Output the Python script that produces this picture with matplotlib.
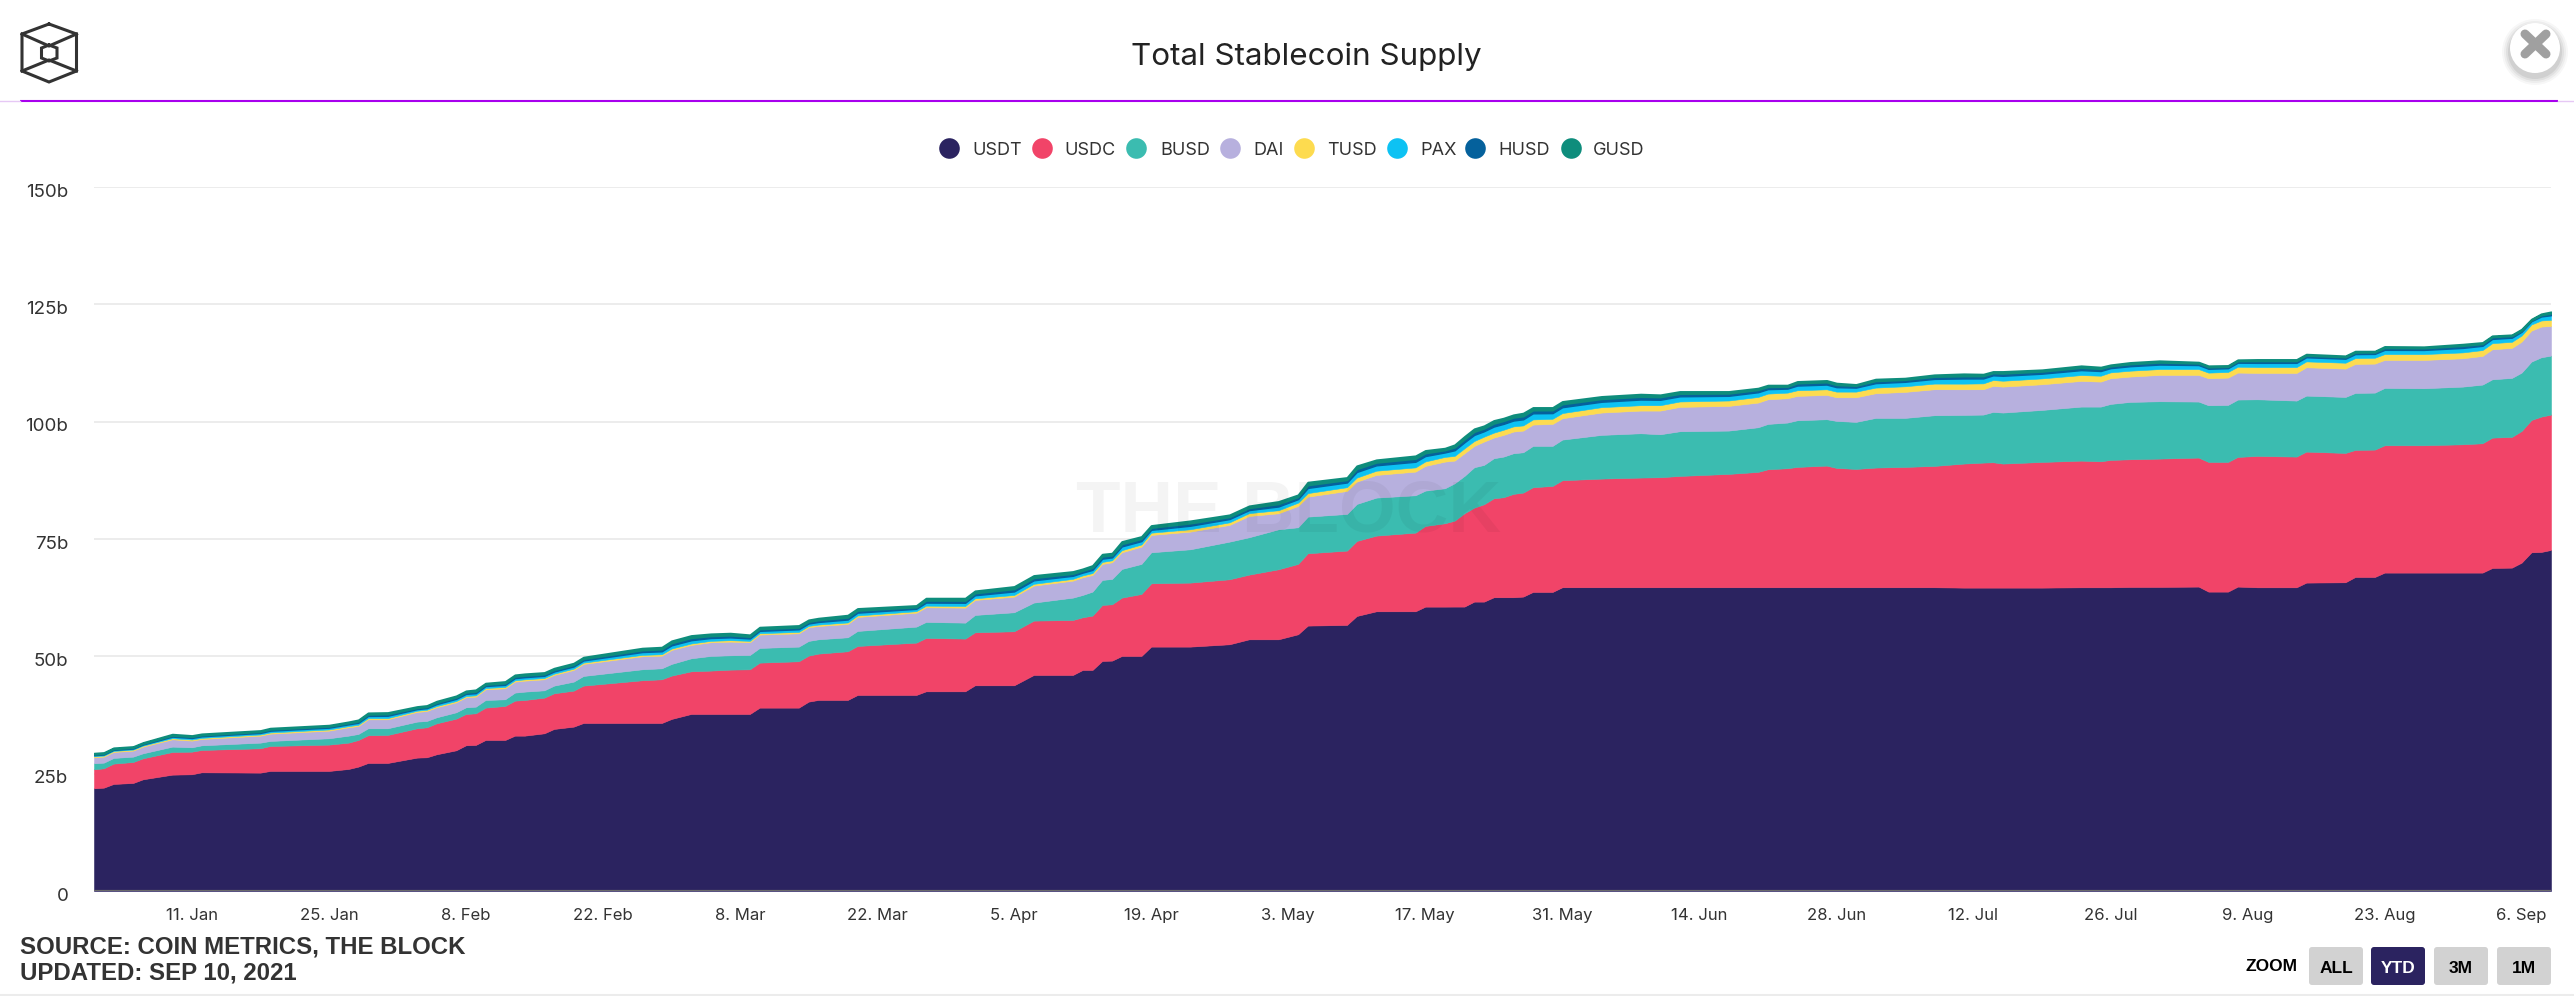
"""
Total Stablecoin Supply chart, values read off the picture (billions of USD)
"""
import numpy as np
import pandas as pd
import matplotlib
matplotlib.use("Agg")
import matplotlib.pyplot as plt
from matplotlib.patches import Circle, FancyBboxPatch
from matplotlib.transforms import ScaledTranslation

START = "2021-01-01"
days = [
    0, 1, 2, 4, 5, 8, 10, 11, 17, 18,
    24, 26, 27, 28, 30, 33, 34, 35, 37, 38,
    39, 40, 42, 43, 44, 46, 47, 49, 50, 56,
    58, 59, 61, 63, 65, 67, 68, 72, 73, 74,
    77, 78, 84, 85, 89, 90, 94, 96, 100, 101,
    102, 103, 104, 105, 107, 108, 112, 116, 118, 121,
    123, 124, 128, 129, 131, 135, 136, 138, 139, 140,
    141, 142, 143, 144, 145, 146, 147, 149, 150, 154,
    158, 160, 162, 167, 170, 171, 173, 174, 177, 178,
    180, 182, 185, 188, 191, 193, 194, 195, 199, 203,
    205, 206, 208, 211, 215, 216, 218, 219, 221, 225,
    226, 230, 231, 233, 234, 238, 242, 244, 245, 247,
    248, 249, 250, 251,
]
usdt = [
    21.88, 22.02, 22.81, 23.02, 23.80, 24.79, 24.87, 25.29, 25.22, 25.58,
    25.58, 26.00, 26.50, 27.28, 27.28, 28.42, 28.49, 29.13, 29.98, 31.05,
    31.12, 32.18, 32.18, 33.10, 33.10, 33.60, 34.53, 35.02, 35.80, 35.80,
    35.80, 36.66, 37.72, 37.72, 37.72, 37.72, 39.07, 39.07, 40.35, 40.71,
    40.71, 41.77, 41.77, 42.55, 42.55, 43.83, 43.83, 46.03, 46.03, 47.10,
    47.10, 49.02, 49.09, 50.08, 50.08, 52.07, 52.07, 52.57, 53.63, 53.63,
    54.70, 56.55, 56.69, 58.60, 59.60, 59.60, 60.59, 60.59, 60.60, 60.60,
    61.66, 61.66, 62.59, 62.59, 62.59, 62.73, 63.72, 63.72, 64.72, 64.72,
    64.72, 64.72, 64.72, 64.72, 64.72, 64.72, 64.72, 64.72, 64.72, 64.72,
    64.72, 64.72, 64.72, 64.72, 64.64, 64.64, 64.64, 64.64, 64.64, 64.71,
    64.71, 64.71, 64.78, 64.79, 64.86, 63.79, 63.79, 64.86, 64.71, 64.71,
    65.71, 65.78, 66.91, 66.91, 67.84, 67.84, 67.84, 67.84, 68.83, 68.90,
    69.97, 72.17, 72.24, 72.67,
]
usdc_top = [
    25.93, 26.14, 27.14, 27.49, 28.27, 29.62, 29.69, 30.05, 30.41, 30.90,
    31.19, 31.61, 32.18, 33.18, 33.25, 34.67, 34.88, 35.73, 36.73, 37.72,
    37.86, 39.07, 39.43, 40.56, 40.70, 41.20, 42.13, 42.69, 43.76, 44.90,
    45.11, 45.89, 46.81, 46.96, 47.17, 47.24, 48.66, 48.95, 50.15, 50.58,
    51.08, 52.21, 52.92, 53.92, 53.78, 55.12, 55.34, 57.61, 57.75, 58.32,
    58.68, 60.95, 61.09, 62.51, 63.29, 65.56, 65.71, 66.42, 67.41, 68.55,
    69.69, 71.96, 72.53, 74.59, 75.72, 76.36, 77.78, 78.35, 78.92, 80.49,
    81.69, 82.41, 83.68, 83.90, 84.61, 84.89, 86.03, 86.31, 87.52, 87.87,
    88.09, 88.16, 88.44, 88.87, 89.30, 89.86, 90.08, 90.36, 90.64, 90.15,
    89.93, 90.22, 90.36, 90.57, 91.07, 91.28, 91.35, 91.07, 91.42, 91.70,
    91.56, 91.85, 91.99, 92.13, 92.35, 91.42, 91.42, 92.49, 92.70, 92.56,
    93.62, 93.34, 93.98, 94.05, 94.97, 94.97, 95.18, 95.40, 96.60, 96.75,
    98.03, 100.37, 101.08, 101.51,
]
busd_top = [
    27.21, 27.35, 28.35, 28.63, 29.34, 30.76, 30.62, 31.04, 31.61, 31.97,
    32.54, 33.10, 33.46, 34.67, 34.67, 36.09, 36.23, 37.01, 38.08, 39.14,
    39.28, 40.70, 40.85, 42.27, 42.48, 42.76, 43.76, 44.61, 45.82, 47.24,
    47.45, 48.38, 49.58, 50.08, 50.22, 50.29, 51.79, 52.07, 53.28, 53.63,
    54.06, 55.41, 56.33, 57.33, 57.18, 58.82, 59.39, 61.45, 62.51, 63.08,
    63.79, 66.28, 66.49, 68.62, 69.69, 72.17, 72.81, 74.44, 75.37, 77.07,
    77.50, 79.77, 80.34, 82.47, 83.82, 84.32, 85.31, 85.81, 86.88, 88.44,
    90.29, 90.79, 92.21, 92.56, 93.27, 93.48, 94.84, 94.84, 96.18, 97.18,
    97.53, 97.32, 97.96, 98.10, 98.81, 99.52, 99.81, 100.30, 100.52, 100.16,
    99.95, 100.80, 100.80, 101.37, 101.44, 101.51, 102.08, 101.94, 102.50, 103.21,
    103.21, 103.78, 104.21, 104.35, 104.28, 103.50, 103.57, 104.71, 104.77, 104.49,
    105.55, 105.27, 106.12, 106.19, 107.19, 107.12, 107.47, 107.90, 109.03, 109.32,
    110.46, 112.80, 113.72, 114.08,
]
dai_top = [
    28.49, 28.63, 29.62, 29.91, 30.76, 32.32, 32.04, 32.39, 33.10, 33.53,
    34.17, 34.88, 35.16, 36.58, 36.58, 38.15, 38.36, 39.14, 40.21, 41.27,
    41.42, 42.98, 43.19, 44.61, 44.82, 45.11, 46.03, 47.10, 48.38, 50.01,
    50.15, 51.36, 52.43, 53.00, 53.14, 53.00, 54.63, 54.91, 56.19, 56.47,
    56.90, 58.39, 59.30, 60.45, 60.38, 62.01, 62.72, 65.07, 66.13, 66.84,
    67.34, 69.69, 70.04, 72.17, 73.38, 75.86, 76.58, 78.00, 79.91, 80.48,
    82.04, 84.03, 85.24, 87.23, 88.65, 89.36, 90.57, 91.49, 91.71, 93.27,
    94.83, 95.76, 96.61, 97.18, 97.89, 98.10, 99.38, 99.52, 100.73, 101.94,
    102.36, 102.36, 103.15, 103.36, 104.07, 104.78, 104.99, 105.49, 105.70, 105.20,
    105.20, 106.06, 106.34, 106.91, 106.90, 106.91, 107.62, 107.47, 107.97, 108.68,
    108.54, 109.25, 109.61, 109.96, 109.96, 109.25, 109.39, 110.46, 110.38, 110.38,
    111.59, 111.31, 112.30, 112.37, 113.15, 113.15, 113.51, 114.01, 115.43, 115.71,
    117.06, 119.41, 120.26, 120.40,
]
total = [
    29.34, 29.48, 30.48, 30.76, 31.61, 33.39, 33.10, 33.46, 34.17, 34.67,
    35.31, 36.02, 36.44, 37.93, 38.00, 39.28, 39.50, 40.42, 41.56, 42.62,
    42.84, 44.26, 44.61, 46.03, 46.25, 46.53, 47.45, 48.52, 49.80, 51.72,
    51.93, 53.28, 54.41, 54.77, 54.91, 54.56, 56.19, 56.55, 57.75, 58.11,
    58.75, 60.17, 60.81, 62.37, 62.37, 63.93, 64.86, 67.20, 68.05, 68.62,
    69.33, 71.74, 71.96, 74.44, 75.51, 77.85, 78.85, 80.13, 82.04, 82.97,
    84.39, 87.09, 88.08, 90.57, 91.85, 92.70, 93.84, 94.33, 95.05, 96.82,
    98.46, 99.10, 100.23, 100.73, 101.44, 101.80, 103.00, 103.00, 104.28, 105.35,
    105.84, 105.70, 106.41, 106.41, 107.12, 107.76, 107.76, 108.54, 108.76, 108.19,
    107.90, 109.04, 109.25, 109.96, 110.17, 110.10, 110.67, 110.67, 111.03, 111.88,
    111.60, 112.09, 112.59, 112.95, 112.66, 111.88, 111.95, 113.16, 113.23, 113.23,
    114.36, 114.00, 115.00, 115.00, 116.00, 115.93, 116.49, 116.85, 118.27, 118.48,
    119.69, 121.82, 122.96, 123.38,
]
tusd = [
    .22, .22, .22, .22, .22, .24, .24, .24, .25, .25,
    .25, .25, .26, .26, .26, .26, .26, .27, .27, .27,
    .27, .27, .28, .28, .28, .28, .28, .28, .28, .30,
    .30, .30, .30, .30, .30, .30, .30, .30, .30, .30,
    .32, .32, .32, .35, .35, .35, .36, .38, .38, .40,
    .40, .42, .42, .45, .45, .48, .50, .55, .60, .65,
    .70, .75, .80, .85, .90, .90, .95, 1.0, 1.0, 1.05,
    1.05, 1.05, 1.05, 1.1, 1.1, 1.1, 1.1, 1.1, 1.1, 1.15,
    1.15, 1.15, 1.15, 1.15, 1.2, 1.2, 1.2, 1.2, 1.2, 1.2,
    1.2, 1.2, 1.2, 1.2, 1.2, 1.25, 1.25, 1.25, 1.25, 1.25,
    1.25, 1.25, 1.25, 1.25, 1.25, 1.2, 1.2, 1.25, 1.25, 1.25,
    1.25, 1.25, 1.25, 1.25, 1.25, 1.25, 1.25, 1.25, 1.3, 1.3,
    1.3, 1.3, 1.3, 1.3,
]
pax = [
    .22, .22, .22, .22, .22, .33, .33, .33, .33, .38,
    .38, .38, .42, .46, .50, .34, .34, .42, .46, .46,
    .46, .42, .46, .46, .46, .46, .46, .46, .46, .60,
    .62, .68, .70, .60, .60, .50, .50, .55, .50, .55,
    .62, .60, .50, .65, .68, .65, .75, .75, .65, .60,
    .68, .70, .62, .80, .72, .62, .75, .70, .65, .80,
    .75, 1.1, 1.0, 1.2, 1.15, 1.2, 1.15, .95, 1.2, 1.28,
    1.3, 1.15, 1.3, 1.25, 1.25, 1.3, 1.3, 1.2, 1.25, 1.15,
    1.2, 1.15, 1.1, 1.0, 1.0, .95, .85, 1.0, 1.0, .95,
    .85, .95, .95, 1.0, 1.1, 1.05, 1.0, 1.05, 1.0, 1.05,
    1.0, .90, .95, .95, .85, .82, .80, .85, .90, .90,
    .88, .85, .85, .82, .90, .88, .95, .90, .90, .88,
    .80, .70, .85, .98,
]
husd = [
    .23, .23, .23, .23, .23, .28, .28, .28, .28, .30,
    .30, .30, .34, .36, .38, .30, .30, .34, .36, .36,
    .38, .34, .38, .38, .38, .38, .38, .38, .38, .45,
    .48, .52, .55, .48, .48, .42, .42, .44, .42, .44,
    .50, .48, .40, .50, .52, .50, .56, .55, .50, .45,
    .50, .52, .50, .56, .54, .50, .56, .50, .50, .58,
    .52, .65, .60, .70, .65, .70, .67, .55, .67, .70,
    .72, .65, .70, .70, .70, .72, .70, .68, .70, .65,
    .65, .62, .60, .55, .55, .52, .47, .55, .55, .52,
    .45, .50, .48, .52, .55, .55, .52, .55, .52, .55,
    .52, .45, .50, .50, .40, .38, .36, .40, .45, .45,
    .40, .38, .38, .38, .45, .42, .50, .45, .45, .42,
    .30, .25, .35, .42,
]
names = ["USDT", "USDC", "BUSD", "DAI", "TUSD", "PAX", "HUSD", "GUSD"]
colors = ["#2b2360", "#f14468", "#3bbcb0", "#b7b0de",
          "#fddb4f", "#0dc2f3", "#05619c", "#0e8d7c"]
y_ticks = [0, 25, 50, 75, 100, 125, 150]
y_labels = ["0", "25b", "50b", "75b", "100b", "125b", "150b"]
x_tick_dates = pd.date_range("2021-01-11", "2021-09-06", freq="14D")
x_labels = ["11. Jan", "25. Jan", "8. Feb", "22. Feb", "8. Mar", "22. Mar",
            "5. Apr", "19. Apr", "3. May", "17. May", "31. May", "14. Jun",
            "28. Jun", "12. Jul", "26. Jul", "9. Aug", "23. Aug", "6. Sep"]

WIDTH, HEIGHT = 2574, 996
TEXT = "#333333"


def draw_chart(fig):
    left, right, top, bottom = 94, 2551, 187, 891
    ax = fig.add_axes([left / WIDTH, 1 - bottom / HEIGHT,
                       (right - left) / WIDTH, (bottom - top) / HEIGHT])
    dates = pd.Timestamp(START) + pd.to_timedelta(days, unit="D")
    t = np.array(total)
    base = [np.array(usdt), np.array(usdc_top), np.array(busd_top), np.array(dai_top)]
    gusd = t - base[3] - np.array(tusd) - np.array(pax) - np.array(husd)
    series = [base[0], base[1] - base[0], base[2] - base[1], base[3] - base[2],
              tusd, pax, husd, gusd]
    polys = ax.stackplot(dates, series, colors=colors, linewidth=0.4,
                         edgecolor="face", zorder=2)
    # the thin top bands carry a heavier outline in the original
    polys[6].set_linewidth(1.0)
    polys[7].set_linewidth(1.5)
    ax.set_xlim(dates[0], dates[-1])
    ax.set_ylim(0, 150)
    for s in ax.spines.values():
        s.set_visible(False)
    ax.set_facecolor("none")
    ax.set_yticks(y_ticks, y_labels)
    ax.set_xticks(x_tick_dates, x_labels)
    ax.tick_params(axis="y", length=0, labelsize=13.5, labelcolor=TEXT, pad=18.5)
    ax.tick_params(axis="x", length=0, labelsize=12, labelcolor=TEXT, pad=12.5)
    for lab in ax.get_yticklabels():
        lab.set_transform(lab.get_transform()
                          + ScaledTranslation(0, -2.2 / 72, fig.dpi_scale_trans))
    ax.grid(axis="y", color="#ececec", linewidth=1.4, zorder=0)
    ax.axhline(0, color="#6b6b6b", linewidth=1.6, zorder=3)
    return ax


def draw_overlay(fig):
    ov = fig.add_axes([0, 0, 1, 1], zorder=5)
    ov.set_xlim(0, WIDTH)
    ov.set_ylim(HEIGHT, 0)
    ov.axis("off")
    ov.patch.set_alpha(0)

    ov.text(1306, 57, "Total Stablecoin Supply", ha="center", va="center",
            fontsize=22.6, color="#222222")
    # header rule
    ov.plot([20, 2558], [100.5, 100.5], color="#a800ee", lw=1.5, solid_capstyle="butt")
    ov.plot([0, 20], [101, 101], color="#e6c8f5", lw=1.0)
    ov.plot([2558, 2574], [101, 101], color="#e6c8f5", lw=1.0)
    ov.plot([0, 2574], [995, 995], color="#ececec", lw=1.5)

    # watermark
    ov.text(1288, 512, "THE BLOCK", ha="center", va="center", fontsize=52.5,
            fontweight="bold", family="Liberation Sans", color="black", alpha=0.045)

    # logo
    logo = dict(color="#333333", lw=2.2, solid_joinstyle="miter")
    ov.plot([49, 76.5, 76.5, 49, 22, 22, 49], [24, 34, 71, 82, 71, 34, 24], **logo)
    ov.plot([22, 49, 76.5], [34, 46, 34], **logo)
    ov.plot([22, 49, 76.5], [71, 60, 71], **logo)
    ov.plot([49, 57, 57, 49, 41.5, 41.5, 49], [45, 48, 58, 61, 58, 48, 45], **logo)

    # close button
    for r, a in zip([33, 31, 29, 27], [0.03, 0.04, 0.05, 0.07]):
        ov.add_patch(Circle((2535, 52), r, color="black", alpha=a, lw=0))
    ov.add_patch(Circle((2535, 48), 25, color="white", lw=0))
    ov.plot([2525, 2546], [34, 54], color="#a0a0a0", lw=6.5, solid_capstyle="round")
    ov.plot([2525, 2546], [54, 34], color="#a0a0a0", lw=6.5, solid_capstyle="round")

    # legend
    marker_x = [949, 1042, 1136, 1230, 1304, 1397, 1475, 1571]
    label_x = [972, 1064, 1160, 1253, 1327, 1420, 1498, 1593]
    for mx, lx, name, c in zip(marker_x, label_x, names, colors):
        ov.scatter([mx], [148], s=220, color=c, linewidths=0)
        ov.text(lx, 150.5, name, ha="left", va="center", fontsize=13, color=TEXT)

    # source
    src = dict(ha="left", va="center", fontsize=17.3, fontweight="bold",
               family="Liberation Sans", color="#333333")
    ov.text(20, 947, "SOURCE: COIN METRICS, THE BLOCK", **src)
    ov.text(20, 973, "UPDATED: SEP 10, 2021", **src)

    # zoom buttons
    ov.text(2272, 966, "ZOOM", ha="center", va="center", fontsize=12.5,
            fontweight="bold", family="Liberation Sans", color="black")
    buttons = [("ALL", 2309, False), ("YTD", 2371, True), ("3M", 2434, False), ("1M", 2497, False)]
    for label, bx, active in buttons:
        ov.add_patch(FancyBboxPatch((bx + 3, 950), 48, 32, boxstyle="round,pad=3",
                                    facecolor="#2b2360" if active else "#d2d2d2", lw=0))
        ov.text(bx + 27, 968, label, ha="center", va="center", fontsize=12.5,
                fontweight="bold", family="Liberation Sans",
                color="white" if active else "black")


def main():
    plt.rcParams["font.family"] = ["Inter", "DejaVu Sans"]
    fig = plt.figure(figsize=(WIDTH / 100, HEIGHT / 100), dpi=100, facecolor="white")
    draw_chart(fig)
    draw_overlay(fig)
    fig.savefig("out.png", dpi=100)


if __name__ == '__main__':
    main()
